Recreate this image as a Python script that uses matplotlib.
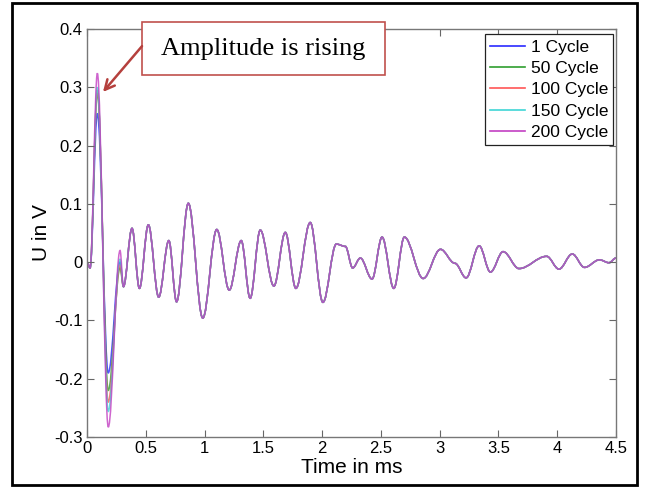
import matplotlib
matplotlib.use("Agg")
import matplotlib.pyplot as plt
from matplotlib.patches import Rectangle, PathPatch
from matplotlib.path import Path
from matplotlib.lines import Line2D

# ---- data (successive peaks / troughs) ----
t_ms = [0.0, 0.026, 0.088, 0.181, 0.281, 0.31, 0.383, 0.446, 0.522,
        0.61, 0.696, 0.762, 0.862, 0.985, 1.104, 1.21, 1.312, 1.388, 1.474,
        1.59, 1.687, 1.777, 1.899, 2.007, 2.121, 2.198, 2.26, 2.325, 2.425,
        2.51, 2.61, 2.70, 2.86, 3.007, 3.13, 3.225, 3.336, 3.432, 3.54,
        3.675, 3.91, 4.015, 4.128, 4.232, 4.36, 4.44, 4.5]
u_common = [0.0, -0.010, None, None, None, -0.042, 0.058, -0.045, 0.064,
            -0.060, 0.037, -0.068, 0.101, -0.096, 0.056, -0.048, 0.037, -0.062, 0.055,
            -0.041, 0.051, -0.045, 0.068, -0.069, 0.031, 0.027, -0.010, 0.007, -0.029,
            0.043, -0.045, 0.043, -0.028, 0.022, -0.002, -0.027, 0.028, -0.017, 0.018,
            -0.011, 0.010, -0.012, 0.014, -0.009, 0.004, -0.001, 0.007]

labels = ["1 Cycle", "50 Cycle", "100 Cycle", "150 Cycle", "200 Cycle"]
first_peak = [0.255, 0.290, 0.295, 0.300, 0.324]
first_trough = [-0.190, -0.220, -0.240, -0.256, -0.283]
bump = [0.000, -0.010, -0.005, 0.005, 0.020]
colors = ["#2a2aff", "#2f9e2f", "#ff5555", "#3fd6d6", "#c23fc2"]

x_ticks = [0, 0.5, 1, 1.5, 2, 2.5, 3, 3.5, 4, 4.5]
x_tick_labels = ["0", "0.5", "1", "1.5", "2", "2.5", "3", "3.5", "4", "4.5"]
y_ticks = [-0.3, -0.2, -0.1, 0, 0.1, 0.2, 0.3, 0.4]
y_tick_labels = ["-0.3", "-0.2", "-0.1", "0", "0.1", "0.2", "0.3", "0.4"]

# ---- figure ----
plt.rcParams["font.family"] = ["Liberation Sans", "DejaVu Sans"]
fig = plt.figure(figsize=(6.54, 4.88), dpi=100)
ax = fig.add_axes([87/654, 1-437/488, 529/654, 408/488])


def smooth_path(ts, us, k=0.36):
    """Cubic Bezier through the extrema with horizontal tangents."""
    verts = [(ts[0], us[0])]
    codes = [Path.MOVETO]
    for j in range(1, len(ts)):
        ta, ua, tb, ub = ts[j-1], us[j-1], ts[j], us[j]
        d = tb - ta
        verts += [(ta + k*d, ua), (tb - k*d, ub), (tb, ub)]
        codes += [Path.CURVE4] * 3
    return Path(verts, codes)


handles = []
for i, lab in enumerate(labels):
    u = list(u_common)
    u[2] = first_peak[i]
    u[3] = first_trough[i]
    u[4] = bump[i]
    patch = PathPatch(smooth_path(t_ms, u), facecolor="none",
                      edgecolor=colors[i], lw=1.1, alpha=0.8,
                      transform=ax.transData, clip_on=True)
    ax.add_patch(patch)
    handles.append(Line2D([], [], color=colors[i], lw=1.2, label=lab))

ax.set_xlim(0, 4.5)
ax.set_ylim(-0.3, 0.4)
ax.set_xticks(x_ticks)
ax.set_xticklabels(x_tick_labels)
ax.set_yticks(y_ticks)
ax.set_yticklabels(y_tick_labels)
ax.tick_params(direction="in", top=True, right=True, length=5, width=0.8,
               color="#666666", labelsize=12, pad=3)
for s in ax.spines.values():
    s.set_color("#777777")
    s.set_linewidth(1.0)
ax.set_xlabel("Time in ms", fontsize=15, labelpad=1)
ax.set_ylabel("U in V", fontsize=15, labelpad=2)

leg = ax.legend(handles=handles, loc="upper right",
                bbox_to_anchor=(0.995, 0.987), borderaxespad=0,
                fontsize=12.5, frameon=True, fancybox=False, framealpha=1,
                edgecolor="#222222", handlelength=2.0, handletextpad=0.35,
                labelspacing=0.36, borderpad=0.3)
leg.get_frame().set_linewidth(0.9)

# annotation box
ax.add_patch(Rectangle((0.104, 0.887), 0.459, 0.130, transform=ax.transAxes,
                       facecolor="white", edgecolor="#c0504d", lw=1.2,
                       clip_on=False, zorder=5))
ax.text(0.334, 0.952, "Amplitude is rising", transform=ax.transAxes,
        ha="center", va="center", fontsize=19, family="Liberation Serif",
        zorder=6, clip_on=False)
ax.annotate("", xy=(0.136, 0.292), xycoords="data",
            xytext=(0.104, 0.958), textcoords="axes fraction",
            arrowprops=dict(arrowstyle="->,head_length=0.7,head_width=0.35",
                            color="#b5403d", lw=1.8, shrinkA=0, shrinkB=0),
            annotation_clip=False, zorder=6)

# outer border
fig.add_artist(Rectangle((12/654, 3/488), 625/654, 482/488,
                         transform=fig.transFigure, fill=False,
                         edgecolor="black", lw=2))

fig.savefig("out.png", dpi=100)
